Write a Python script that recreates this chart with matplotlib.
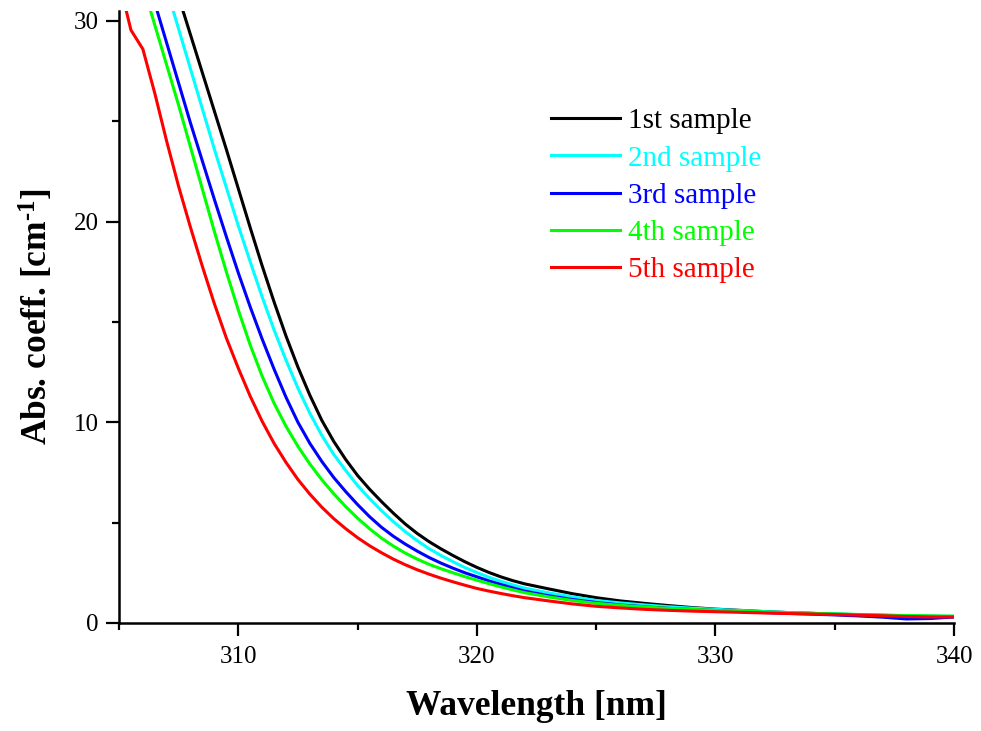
import numpy as np
import matplotlib
matplotlib.use("Agg")
import matplotlib.pyplot as plt
from matplotlib.ticker import MultipleLocator

plt.rcParams["font.family"] = ["Liberation Serif", "DejaVu Serif"]
plt.rcParams["mathtext.fontset"] = "custom"
plt.rcParams["mathtext.rm"] = "Liberation Serif"
plt.rcParams["mathtext.bf"] = "Liberation Serif:bold"
plt.rcParams["mathtext.default"] = "bf"

# wavelength grid [nm]
wavelength = [305, 305.5, 306, 306.5, 307, 307.5, 308, 308.5, 309, 309.5,
              310, 310.5, 311, 311.5, 312, 312.5, 313, 313.5, 314, 314.5,
              315, 315.5, 316, 316.5, 317, 317.5, 318, 318.5, 319, 319.5,
              320, 320.5, 321, 321.5, 322, 323, 324, 325, 326, 327,
              328, 329, 330, 331, 332, 333, 334, 335, 336, 337,
              338, 339, 340]

sample1 = [41.0, 39.1, 37.2, 35.2, 33.2, 31.2, 29.3, 27.4, 25.5, 23.6,
           21.65, 19.7, 17.8, 16.0, 14.3, 12.75, 11.35, 10.1, 9.05, 8.15,
           7.35, 6.67, 6.05, 5.47, 4.93, 4.46, 4.05, 3.69, 3.36, 3.05,
           2.77, 2.52, 2.3, 2.11, 1.95, 1.7, 1.46, 1.26, 1.1, 0.98,
           0.87, 0.77, 0.69, 0.63, 0.57, 0.52, 0.48, 0.44, 0.41, 0.38,
           0.35, 0.33, 0.31]

sample2 = [39.6, 37.6, 35.6, 33.6, 31.6, 29.6, 27.6, 25.6, 23.6, 21.7,
           19.8, 18.0, 16.25, 14.6, 13.1, 11.7, 10.45, 9.35, 8.4, 7.6,
           6.85, 6.2, 5.6, 5.05, 4.55, 4.1, 3.7, 3.36, 3.05, 2.76,
           2.51, 2.28, 2.08, 1.9, 1.74, 1.5, 1.3, 1.12, 1.0, 0.9,
           0.81, 0.74, 0.68, 0.62, 0.57, 0.52, 0.48, 0.45, 0.42, 0.39,
           0.36, 0.34, 0.33]

sample3 = [37.2, 35.1, 33.0, 30.9, 28.9, 26.9, 24.9, 23.0, 21.1, 19.25,
           17.45, 15.75, 14.15, 12.65, 11.25, 10.0, 8.95, 8.05, 7.25, 6.55,
           5.9, 5.3, 4.77, 4.32, 3.93, 3.58, 3.26, 2.98, 2.73, 2.5,
           2.3, 2.1, 1.92, 1.75, 1.59, 1.36, 1.17, 1.02, 0.9, 0.81,
           0.73, 0.67, 0.62, 0.57, 0.52, 0.48, 0.44, 0.4, 0.35, 0.29,
           0.2, 0.22, 0.3]

sample4 = [35.6, 33.7, 31.8, 29.8, 27.8, 25.8, 23.7, 21.6, 19.5, 17.5,
           15.6, 13.85, 12.3, 10.95, 9.8, 8.8, 7.92, 7.14, 6.44, 5.8,
           5.22, 4.7, 4.23, 3.83, 3.48, 3.18, 2.92, 2.7, 2.5, 2.31,
           2.13, 1.96, 1.8, 1.65, 1.51, 1.3, 1.12, 0.98, 0.88, 0.8,
           0.73, 0.68, 0.63, 0.59, 0.55, 0.51, 0.48, 0.45, 0.42, 0.39,
           0.37, 0.35, 0.34]

sample5 = [32.0, 29.55, 28.6, 26.4, 24.0, 21.75, 19.7, 17.75, 15.9, 14.2,
           12.7, 11.3, 10.05, 8.95, 8.0, 7.15, 6.42, 5.77, 5.2, 4.7,
           4.25, 3.85, 3.5, 3.18, 2.9, 2.65, 2.43, 2.23, 2.05, 1.88,
           1.72, 1.59, 1.47, 1.36, 1.26, 1.1, 0.95, 0.83, 0.75, 0.68,
           0.63, 0.59, 0.56, 0.53, 0.5, 0.47, 0.45, 0.42, 0.39, 0.36,
           0.32, 0.3, 0.3]

labels = ["1st sample", "2nd sample", "3rd sample", "4th sample", "5th sample"]
colors = ["#000000", "#00FFFF", "#0000FF", "#00FF00", "#FF0000"]

fig = plt.figure(figsize=(9.81, 7.31), dpi=100)
ax = fig.add_axes([0.1213, 0.1478, 0.8512, 0.8372])

for ys, lab, col in zip([sample1, sample2, sample3, sample4, sample5], labels, colors):
    ax.plot(wavelength, ys, color=col, lw=2.2, label=lab)

ax.set_xlim(305, 340)
ax.set_ylim(0, 30.5)
ax.xaxis.set_major_locator(MultipleLocator(10))
ax.xaxis.set_minor_locator(MultipleLocator(5))
ax.yaxis.set_major_locator(MultipleLocator(10))
ax.yaxis.set_minor_locator(MultipleLocator(5))

for s in ["top", "right"]:
    ax.spines[s].set_visible(False)
for s in ["left", "bottom"]:
    ax.spines[s].set_linewidth(1.8)

ax.tick_params(which="major", direction="out", length=9.5, width=1.6, labelsize=18)
ax.tick_params(which="minor", direction="out", length=5, width=1.6)
ax.tick_params(axis="x", which="major", pad=7)
ax.tick_params(axis="y", which="major", pad=5)

ax.set_xlabel("Wavelength [nm]", fontsize=25.5, fontweight="bold", labelpad=16)
ax.set_ylabel("Abs. coeff. [cm$^{\u20101}$]", fontsize=25.5, fontweight="bold", labelpad=13)

leg = ax.legend(loc="upper left", bbox_to_anchor=(0.5174, 0.8415), frameon=False,
                fontsize=21, handlelength=2.36, handletextpad=0.27,
                labelspacing=0.37, borderpad=0, borderaxespad=0,
                labelcolor="linecolor")
for h in leg.get_lines():
    h.set_linewidth(2.2)

fig.savefig("out.png", dpi=100)
